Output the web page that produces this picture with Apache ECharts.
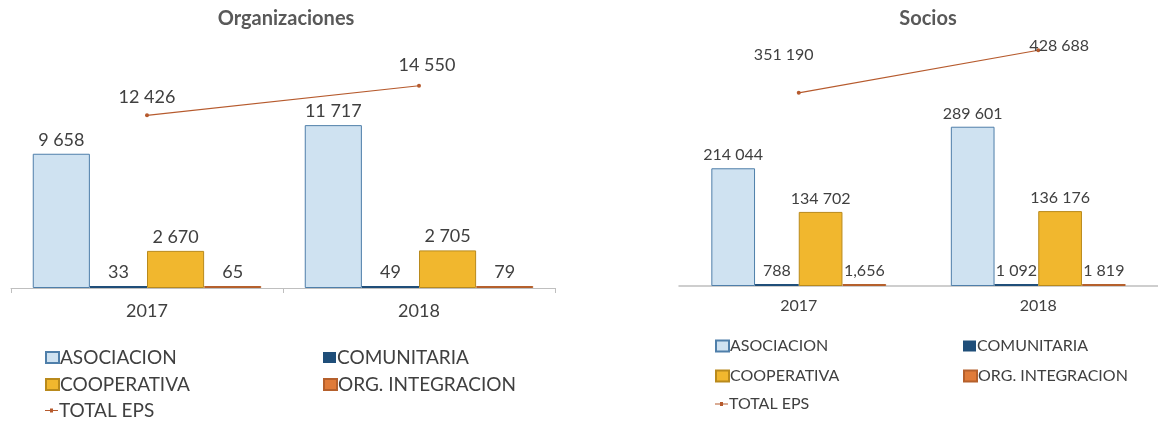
<!DOCTYPE html>
<html>
<head>
<meta charset="utf-8">
<script src="https://cdn.jsdelivr.net/npm/echarts@6/dist/echarts.min.js"></script>
<style>
  html, body { margin: 0; padding: 0; background: #fff; }
  #chart { width: 1158px; height: 421px; }
</style>
</head>
<body>
<div id="chart"></div>
<script>
// datos de ambas graficas
const years = ['2017', '2018'];
const seriesNames = ['ASOCIACION', 'COMUNITARIA', 'COOPERATIVA', 'ORG. INTEGRACION', 'TOTAL EPS'];

// Organizaciones
const orgAsociacion = [9658, 11717];
const orgComunitaria = [33, 49];
const orgCooperativa = [2670, 2705];
const orgIntegracion = [65, 79];
const orgTotal = [12426, 14550];

// Socios
const socAsociacion = [214044, 289601];
const socComunitaria = [788, 1092];
const socCooperativa = [134702, 136176];
const socIntegracion = [1656, 1819];
const socTotal = [351190, 428688];

// etiqueta escrita tal cual en el original
const socIntegracionText = ['1,656', '1 819'];

const font = 'Lato, "Open Sans", sans-serif';
const txt = '#404040';

const colors = {
  asoc: { color: '#cfe2f1', borderColor: '#4f7faa', borderWidth: 1 },
  comu: { color: '#1f4e79' },
  coop: { color: '#f1b72e', borderColor: '#b98a1c', borderWidth: 1 },
  integ: { color: '#e07b39', borderColor: '#b5602c', borderWidth: 1 },
  total: '#b65a2d'
};

// icono de la leyenda de la linea: trazo fino con punto
const lineIcon = 'path://M0,1.6h13v0.8h-13z M5,0h3v4h-3z';

const fmt = v => String(v).replace(/\B(?=(\d{3})+(?!\d))/g, ' ');

const barSeries = (name, data, style, idx, size, gap, texts) => ({
  name,
  type: 'bar',
  xAxisIndex: idx,
  yAxisIndex: idx,
  barGap: '0%',
  barCategoryGap: gap,
  barMinHeight: 2,
  itemStyle: style,
  data: data.map((v, i) => texts ? { value: v, label: { formatter: texts[i] } } : v),
  label: {
    show: true,
    position: 'top',
    distance: 5,
    color: txt,
    fontFamily: font,
    fontSize: size,
    formatter: p => fmt(p.value)
  }
});

// desplazamiento de las etiquetas de la linea (solo estilo)
const lineSeries = (data, idx, size, offsets) => ({
  name: 'TOTAL EPS',
  type: 'line',
  xAxisIndex: idx,
  yAxisIndex: idx,
  symbol: 'circle',
  symbolSize: 4,
  lineStyle: { color: colors.total, width: 1.2 },
  itemStyle: { color: colors.total },
  data: data.map((v, i) => ({ value: v, label: { offset: offsets[i] } })),
  label: {
    show: true,
    position: 'top',
    distance: 5,
    color: txt,
    fontFamily: font,
    fontSize: size,
    formatter: p => fmt(p.value)
  },
  z: 5
});

const xAxis = (idx, size, ticks, margin) => ({
  type: 'category',
  gridIndex: idx,
  data: years,
  axisLine: { lineStyle: { color: '#bfbfbf', width: idx === 0 ? 1 : 1.5 } },
  axisTick: { show: ticks, length: 5, lineStyle: { color: '#bfbfbf' } },
  axisLabel: { color: txt, fontFamily: font, fontSize: size, margin }
});

const yAxis = (idx, max) => ({
  type: 'value',
  gridIndex: idx,
  min: 0,
  max,
  show: false,
  splitLine: { show: false }
});

// una leyenda por elemento para colocarlas en dos columnas
const legendItem = (name, x, y, size) => {
  const isLine = name === 'TOTAL EPS';
  return {
    left: x,
    top: y,
    padding: 0,
    itemWidth: 13,
    itemHeight: isLine ? 4 : 11,
    selectedMode: false,
    data: [{ name, icon: isLine ? lineIcon : 'rect' }],
    textStyle: { color: txt, fontFamily: font, fontSize: size, padding: [0, 0, 0, -4] }
  };
};

const chart = echarts.init(document.getElementById('chart'));

const option = {
  animation: false,
  title: [
    {
      text: 'Organizaciones', left: 281, top: 4, textAlign: 'center',
      textStyle: { color: '#595959', fontFamily: font, fontSize: 20, fontWeight: 'bold' }
    },
    {
      text: 'Socios', left: 923, top: 4, textAlign: 'center',
      textStyle: { color: '#595959', fontFamily: font, fontSize: 20, fontWeight: 'bold' }
    }
  ],
  legend: [
    legendItem('ASOCIACION', 45, 348, 19),
    legendItem('COOPERATIVA', 45, 375, 19),
    legendItem('TOTAL EPS', 45, 401, 19),
    legendItem('COMUNITARIA', 323, 348, 19),
    legendItem('ORG. INTEGRACION', 323, 375, 19),
    legendItem('ASOCIACION', 715, 338, 16),
    legendItem('COOPERATIVA', 715, 368, 16),
    legendItem('TOTAL EPS', 715, 396, 16),
    legendItem('COMUNITARIA', 963, 338, 16),
    legendItem('ORG. INTEGRACION', 963, 368, 16)
  ],
  grid: [
    { left: 11, right: 603, top: 10, bottom: 133 },
    { left: 679, right: -9, top: 11, bottom: 135 }
  ],
  xAxis: [xAxis(0, 18, true, 14), xAxis(1, 16, false, 12)],
  yAxis: [yAxis(0, 20000), yAxis(1, 500000)],
  series: [
    barSeries(seriesNames[0], orgAsociacion, colors.asoc, 0, 18, '16%'),
    barSeries(seriesNames[1], orgComunitaria, colors.comu, 0, 18, '16%'),
    barSeries(seriesNames[2], orgCooperativa, colors.coop, 0, 18, '16%'),
    barSeries(seriesNames[3], orgIntegracion, colors.integ, 0, 18, '16%'),
    lineSeries(orgTotal, 0, 18, [[0, -2], [8, -5]]),
    barSeries(seriesNames[0], socAsociacion, colors.asoc, 1, 16, '27%'),
    barSeries(seriesNames[1], socComunitaria, colors.comu, 1, 16, '27%'),
    barSeries(seriesNames[2], socCooperativa, colors.coop, 1, 16, '27%'),
    barSeries(seriesNames[3], socIntegracion, colors.integ, 1, 16, '27%', socIntegracionText),
    lineSeries(socTotal, 1, 16, [[-15, -23], [21, 11]])
  ]
};

chart.setOption(option);
</script>
</body>
</html>
